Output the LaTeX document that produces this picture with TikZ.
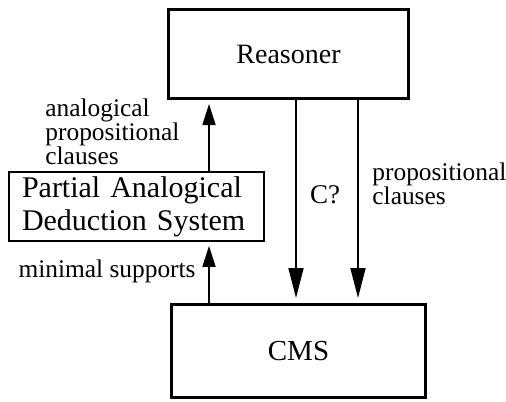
\documentclass[tikz,border=0pt]{standalone}
\usepackage{fontspec}
\setmainfont{Liberation Serif}
\usetikzlibrary{arrows}
\usetikzlibrary{arrows.meta}
\usetikzlibrary{positioning}

\begin{document}
\begin{tikzpicture}[line cap=butt,line join=miter,x=0.5pt,y=-0.5pt,
  bigbox/.style={draw,line width=1.5pt,inner sep=0pt},
  padsbox/.style={draw,line width=0.85pt,align=left,inner xsep=6.5pt,inner ysep=0pt,
    font=\fontsize{15}{16.5}\selectfont},
  lbl/.style={inner sep=0pt,align=left,font=\fontsize{12.7}{11.9}\selectfont},
  uparr/.style={line width=0.85pt,-{Triangle[length=10.5pt,width=6.5pt]},shorten >=2pt},
  downarr/.style={line width=0.85pt,-{Triangle[length=15pt,width=7.5pt]},shorten >=2.5pt}]
\useasboundingbox (0,0) rectangle (506,401);
% boxes
\node[bigbox,minimum width=120pt,minimum height=44.5pt,font=\fontsize{14}{16}\selectfont] (reasoner) at (288.5,54) {Reasoner};
\node[bigbox,minimum width=127pt,minimum height=46.5pt,font=\fontsize{14.5}{16}\selectfont] (cms) at (298.5,351) {CMS};
\node[padsbox,minimum width=127.5pt,minimum height=34.5pt,text width=114.5pt] (pads) at (136.5,206.5) {Partial Analogical\\Deduction System};
% connectors
\coordinate (sup) at ([xshift=19.5pt]cms.north west);
\coordinate (anl) at ([xshift=21pt]reasoner.south west);
\coordinate (ask) at ([xshift=64.5pt]reasoner.south west);
\coordinate (prop) at ([xshift=95.5pt]reasoner.south west);
\draw[uparr] (sup) -- (sup |- pads.south);
\draw[uparr] (anl |- pads.north) -- (anl);
\draw[downarr] (ask) -- (ask |- cms.north);
\draw[downarr] (prop) -- (prop |- cms.north);
% labels
\node[lbl,anchor=west] (lanl) at (45,132) {analogical\\propositional\\clauses};
\node[lbl,anchor=base east] (lsup) at (196,277) {minimal supports};
\node[lbl,anchor=base,font=\fontsize{13.5}{14}\selectfont] (lask) at (325,203) {C?};
\node[lbl,anchor=west] (lprop) at (372,184) {propositional\\clauses};
\end{tikzpicture}
\end{document}
